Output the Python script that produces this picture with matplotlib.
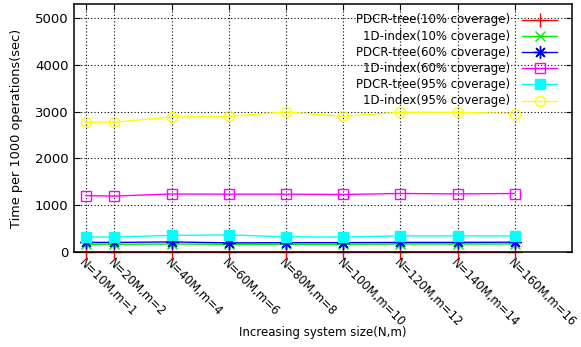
import matplotlib
matplotlib.use("Agg")
import matplotlib.pyplot as plt

# System size N (millions) and number of machines m
n_values = [10, 20, 40, 60, 80, 100, 120, 140, 160]
m_values = [1, 2, 4, 6, 8, 10, 12, 14, 16]
tick_labels = [f"N={n}M,m={m}" for n, m in zip(n_values, m_values)]

# Time per 1000 operations (sec)
pdcr_10 = [5, 5, 5, 5, 5, 5, 5, 5, 5]
index_10 = [165, 165, 170, 165, 165, 165, 170, 170, 170]
pdcr_60 = [205, 205, 215, 195, 200, 200, 205, 205, 210]
index_60 = [1205, 1195, 1240, 1236, 1236, 1230, 1250, 1242, 1250]
pdcr_95 = [320, 320, 355, 365, 325, 320, 345, 345, 345]
index_95 = [2772, 2775, 2885, 2900, 2993, 2900, 2986, 2986, 2956]

series = [
    ("PDCR-tree(10% coverage)", pdcr_10, "#ff0000", dict(marker="+", ms=10, mew=1.0)),
    ("1D-index(10% coverage)", index_10, "#00ee00", dict(marker="x", ms=7.5, mew=1.0)),
    ("PDCR-tree(60% coverage)", pdcr_60, "#0000ff", dict(marker=(8, 2, 0), ms=9, mew=1.0)),
    ("1D-index(60% coverage)", index_60, "#ff00ff", dict(marker="s", ms=7.5, mew=1.0, mfc="none")),
    ("PDCR-tree(95% coverage)", pdcr_95, "#00ffff", dict(marker="s", ms=7.5, mew=1.0)),
    ("1D-index(95% coverage)", index_95, "#ffff00", dict(marker="o", ms=7.2, mew=1.0, mfc="none")),
]

FS = 8.5
plt.rcParams["font.family"] = ["DejaVu Sans"]
fig = plt.figure(figsize=(5.81, 3.47), dpi=100)
ax = fig.add_axes([74 / 581, 1 - 252 / 347, 498 / 581, 248 / 347])

for label, vals, color, style in series:
    ax.plot(n_values, vals, color=color, lw=1.0, label=label, clip_on=False, **style)

ax.set_xlim(5.9, 180)
ax.set_ylim(0, 5300)
ax.set_xticks(n_values)
ax.set_xticklabels(tick_labels, rotation=-45, ha="left", va="top",
                   rotation_mode="anchor", fontsize=8.4)
ax.set_yticks([0, 1000, 2000, 3000, 4000, 5000])
ax.tick_params(axis="y", labelsize=9.5)
ax.tick_params(direction="in", length=4.5, width=0.8, top=True, right=True, pad=4)
ax.tick_params(axis="x", pad=3)

ax.grid(True, color="black", linestyle=(0, (1, 2)), linewidth=0.8)
ax.set_axisbelow(True)
for sp in ax.spines.values():
    sp.set_linewidth(1.1)

ax.set_xlabel("Increasing system size(N,m)", fontsize=FS)
ax.xaxis.set_label_coords(0.5, -0.30)
ax.set_ylabel("Time per 1000 operations(sec)", fontsize=9.3)
ax.yaxis.set_label_coords(-0.102, 0.5)

# Key in the upper right: right-aligned titles followed by line samples
key_text_x = 0.8755
key_line_x = (0.8996, 0.9699)
for i, (label, vals, color, style) in enumerate(series):
    y = (252 - (20 + 16.1 * i)) / 248
    ax.text(key_text_x, y, label, transform=ax.transAxes, ha="right",
            va="center", fontsize=FS)
    ax.plot(key_line_x, (y, y), color=color, lw=1.0, transform=ax.transAxes,
            clip_on=False)
    ax.plot([sum(key_line_x) / 2], [y], color=color, transform=ax.transAxes,
            clip_on=False, **style)

fig.savefig("out.png", dpi=100)
